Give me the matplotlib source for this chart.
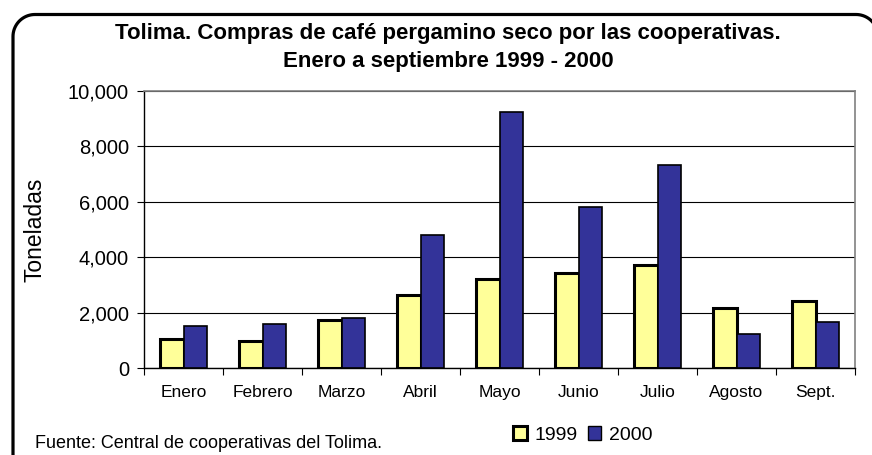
import matplotlib
matplotlib.use("Agg")
import matplotlib.pyplot as plt
from matplotlib.patches import Patch, PathPatch
from matplotlib.path import Path
from matplotlib.transforms import Affine2D
from matplotlib.ticker import FuncFormatter
import numpy as np

categories = ["Enero", "Febrero", "Marzo", "Abril", "Mayo", "Junio", "Julio", "Agosto", "Sept."]
values_1999 = [1050, 980, 1750, 2640, 3210, 3420, 3710, 2160, 2440]
values_2000 = [1510, 1590, 1800, 4800, 9230, 5800, 7320, 1240, 1660]
series_labels = ["1999", "2000"]
yticks = [0, 2000, 4000, 6000, 8000, 10000]

plt.rcParams['font.family'] = ['Liberation Sans', 'DejaVu Sans']

W, H = 872, 455
fig = plt.figure(figsize=(W / 100, H / 100), dpi=100)
fig.patch.set_facecolor("white")

ax = fig.add_axes([144.3 / W, 1 - 368.3 / H, (855 - 144.3) / W, (368.3 - 90.7) / H])

x = np.arange(len(categories))
bw = 0.3
c1999 = "#FFFF99"
c2000 = "#333399"
ax.bar(x - bw / 2, values_1999, bw, color=c1999, edgecolor="black", linewidth=2.2, zorder=3)
ax.bar(x + bw / 2, values_2000, bw, color=c2000, edgecolor="black", linewidth=1.2, zorder=3)

ax.set_xlim(-0.5, len(categories) - 0.5)
ax.set_ylim(0, 10000)
ax.set_yticks(yticks)
ax.yaxis.set_major_formatter(FuncFormatter(lambda v, p: f"{int(v):,}"))
ax.grid(axis="y", color="black", linewidth=0.8, zorder=0)
ax.set_axisbelow(True)

ax.set_xticks(x)
ax.set_xticklabels(categories, fontsize=12.5)
ax.tick_params(axis="x", which="major", length=0, pad=12)
ax.set_xticks(np.arange(len(categories) + 1) - 0.5, minor=True)
ax.tick_params(axis="x", which="minor", length=5, width=0.8, color="black", direction="out")
ax.tick_params(axis="y", length=5, width=0.8, labelsize=14.5, pad=6)

for s in ["top", "right"]:
    ax.spines[s].set_color("#808080")
    ax.spines[s].set_linewidth(1.2)
for s in ["left", "bottom"]:
    ax.spines[s].set_color("black")
    ax.spines[s].set_linewidth(1.0)

fig.text(35 / W, 1 - 230 / H, "Toneladas", rotation=90, ha="center", va="center", fontsize=16.5)

fig.text(448 / W, 1 - 33 / H, "Tolima. Compras de café pergamino seco por las cooperativas.",
         ha="center", va="center", fontsize=16, fontweight="bold")
fig.text(448 / W, 1 - 61 / H, "Enero a septiembre 1999 - 2000",
         ha="center", va="center", fontsize=16, fontweight="bold")

fig.text(35 / W, 1 - 443 / H, "Fuente: Central de cooperativas del Tolima.",
         ha="left", va="center", fontsize=13)

handles = [Patch(facecolor=c1999, edgecolor="black", linewidth=2.2),
           Patch(facecolor=c2000, edgecolor="black", linewidth=1.0)]
fig.legend(handles, series_labels, loc="center", bbox_to_anchor=(583 / W, 1 - 435 / H),
           ncol=2, frameon=False, fontsize=14, handlelength=0.7, handleheight=0.7,
           handletextpad=0.4, columnspacing=0.5, borderpad=0)

# rounded frame around the chart, in pixel coordinates (y downward)
r = 22.0
left, top, right, bottom = 13.0, 14.5, 878.0, 480.0
a = np.linspace(0, np.pi / 2, 20)
tl = np.column_stack([left + r - r * np.cos(a), top + r - r * np.sin(a)])
tr = np.column_stack([right - r + r * np.sin(a), top + r - r * np.cos(a)])
pts = np.vstack([[left, bottom], tl, tr, [right, bottom]])
pts[:, 1] = H - pts[:, 1]
frame = PathPatch(Path(pts), fill=False, edgecolor="black", linewidth=2.3,
                  transform=Affine2D().scale(1 / W, 1 / H) + fig.transFigure,
                  clip_on=False, capstyle="round", joinstyle="round")
fig.add_artist(frame)

fig.savefig("out.png", dpi=100)
